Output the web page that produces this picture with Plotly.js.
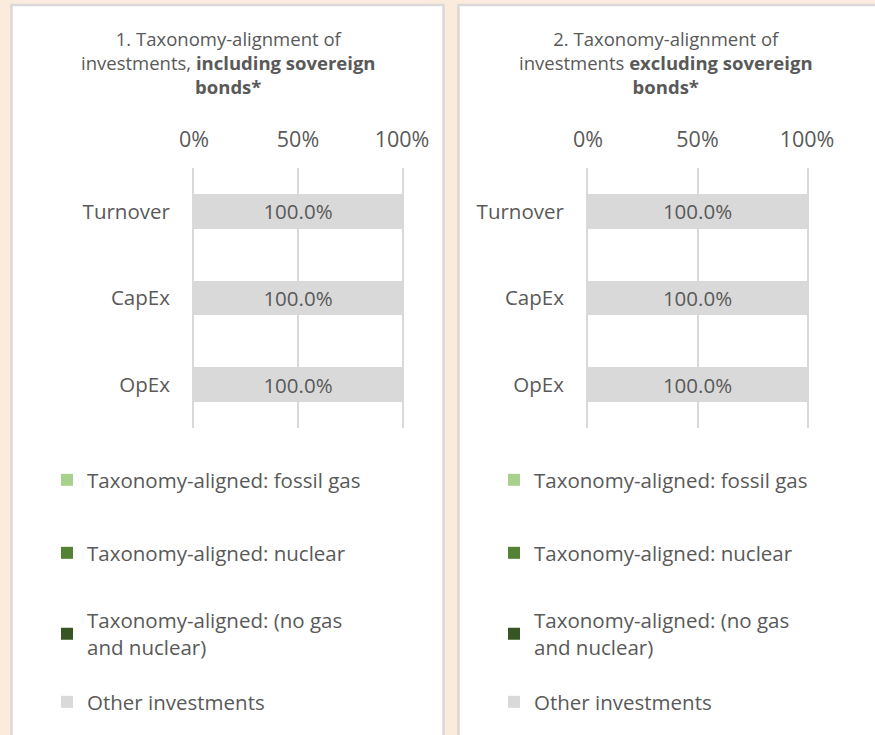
<!DOCTYPE html>
<html>
<head>
<meta charset="utf-8">
<script src="https://cdn.plot.ly/plotly-3.0.1.min.js"></script>
<style>html,body{margin:0;padding:0;background:#FBEBDC;}#chart{width:875px;height:735px;}</style>
</head>
<body>
<div id="chart"></div>
<script>
// ---- data ----
const categories = ['Turnover', 'CapEx', 'OpEx'];
const seriesNames = [
  'Taxonomy-aligned: fossil gas',
  'Taxonomy-aligned: nuclear',
  'Taxonomy-aligned: (no gas<br>and nuclear)',
  'Other investments'
];
// panel 1: including sovereign bonds
const incFossilGas = [0, 0, 0];
const incNuclear   = [0, 0, 0];
const incNoGasNuc  = [0, 0, 0];
const incOther     = [1.0, 1.0, 1.0];
// panel 2: excluding sovereign bonds
const excFossilGas = [0, 0, 0];
const excNuclear   = [0, 0, 0];
const excNoGasNuc  = [0, 0, 0];
const excOther     = [1.0, 1.0, 1.0];
const xTickVals = [0, 0.5, 1];
const xTickText = ['0%', '50%', '100%'];

const colors = ['#A9D18E', '#548235', '#375623', '#D9D9D9'];
const W = 875, H = 735;
const px = v => v / W;
const py = v => 1 - v / H;
const FONT = 'Open Sans, Noto Sans, sans-serif';
const TXT = '#595959';

const panelSeries = [
  [incFossilGas, incNuclear, incNoGasNuc, incOther],
  [excFossilGas, excNuclear, excNoGasNuc, excOther]
];

const traces = [];
panelSeries.forEach((series, p) => {
  series.forEach((vals, i) => {
    const isOther = i === 3;
    traces.push({
      type: 'bar',
      orientation: 'h',
      name: seriesNames[i],
      y: categories,
      x: vals,
      xaxis: p === 0 ? 'x' : 'x2',
      yaxis: p === 0 ? 'y' : 'y2',
      marker: {color: colors[i]},
      text: isOther ? vals.map(v => (v * 100).toFixed(1) + '%') : null,
      textposition: isOther ? 'inside' : 'none',
      insidetextanchor: 'middle',
      textfont: {family: FONT, size: 20.5, color: TXT},
      legend: 'legend' + (p * 4 + i === 0 ? '' : (p * 4 + i + 1)),
      hoverinfo: 'skip'
    });
  });
});

const plotTop = 168, plotBot = 428;
function xax(x0, x1) {
  return {
    domain: [px(x0), px(x1)], range: [0, 1], side: 'top',
    tickvals: xTickVals, ticktext: xTickText,
    showgrid: true, gridcolor: '#D9D9D9', gridwidth: 2,
    zeroline: false, showline: false, ticks: '',
    ticklabelstandoff: 16,
    tickfont: {family: FONT, size: 21.5, color: TXT}, fixedrange: true
  };
}
function yax() {
  return {
    domain: [py(plotBot), py(plotTop)], type: 'category',
    categoryorder: 'array', categoryarray: categories, autorange: 'reversed',
    showgrid: false, zeroline: false,
    showline: true, mirror: true, linecolor: '#D9D9D9', linewidth: 2,
    ticks: '',
    ticklabelstandoff: 18,
    tickfont: {family: FONT, size: 20.5, color: TXT}, fixedrange: true
  };
}

const panels = [{x0: 11.5, x1: 443.5}, {x0: 458.5, x1: 880}];
const legendRows = [480, 553, 634, 702];
const legendLeft = [47, 494];

const layout = {
  width: W, height: H,
  margin: {l: 0, r: 0, t: 0, b: 0},
  paper_bgcolor: '#FBEBDC', plot_bgcolor: 'rgba(0,0,0,0)',
  barmode: 'stack', bargap: 0.6,
  font: {family: FONT, color: TXT},
  xaxis: xax(194, 402), yaxis: yax(),
  xaxis2: Object.assign(xax(588, 807), {anchor: 'y2'}),
  yaxis2: Object.assign(yax(), {anchor: 'x2'}),
  shapes: panels.map(pn => ({
    type: 'rect', xref: 'paper', yref: 'paper', layer: 'below',
    x0: px(pn.x0), x1: px(pn.x1), y0: py(745), y1: py(5),
    fillcolor: '#FFFFFF', line: {color: '#D9D9D9', width: 2.5}
  })),
  annotations: [
    {text: '1. Taxonomy-alignment of<br>investments, <b>including sovereign</b><br><b>bonds*</b>', x: px(228), y: py(62)},
    {text: '2. Taxonomy-alignment of<br>investments <b>excluding sovereign</b><br><b>bonds*</b>', x: px(666), y: py(62)}
  ].map(a => Object.assign(a, {
    xref: 'paper', yref: 'paper', xanchor: 'center', yanchor: 'middle',
    showarrow: false, align: 'center', font: {family: FONT, size: 18.5, color: TXT}
  })),
  showlegend: true
};

for (let p = 0; p < 2; p++) {
  for (let i = 0; i < 4; i++) {
    const k = p * 4 + i;
    const key = 'legend' + (k === 0 ? '' : (k + 1));
    layout[key] = {
      x: px(legendLeft[p]), y: py(legendRows[i]), xanchor: 'left', yanchor: 'middle',
      xref: 'paper', yref: 'paper',
      bgcolor: 'rgba(0,0,0,0)', borderwidth: 0,
      font: {family: FONT, size: 20.5, color: TXT}
    };
  }
}

Plotly.newPlot('chart', traces, layout, {staticPlot: true, displayModeBar: false});
</script>
</body>
</html>
